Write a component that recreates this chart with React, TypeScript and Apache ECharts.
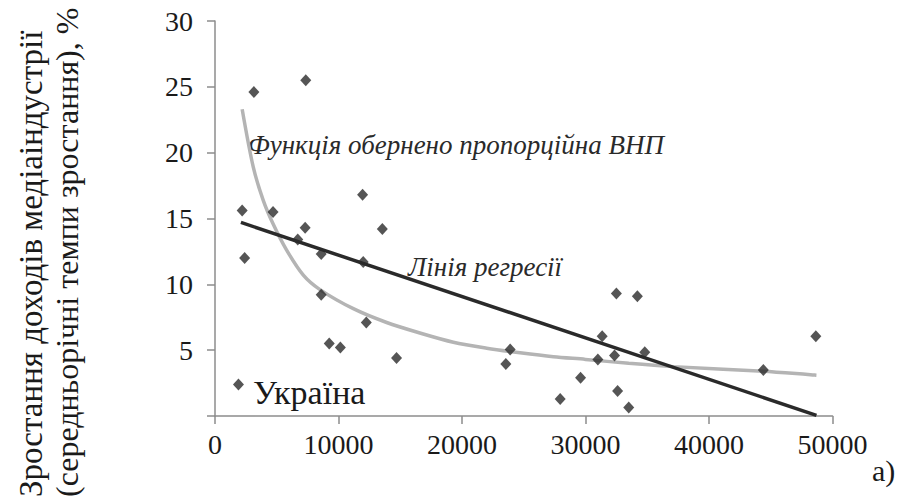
import React, { useEffect, useRef } from "react";
import * as echarts from "echarts";

// Scatter points: GDP per capita (x) vs media revenue growth, % (y)
const pointsX = [1900, 2200, 2400, 3150, 4700, 6700, 7300, 7350, 8600, 8600, 9250, 10150, 11950, 12000, 12250, 13550, 14700, 23550, 23900, 27950, 29600, 31000, 31350, 32350, 32500, 32600, 33500, 34200, 34800, 44400, 48650];
const pointsY = [2.4, 15.6, 12.0, 24.6, 15.5, 13.4, 14.3, 25.5, 12.3, 9.2, 5.5, 5.2, 16.8, 11.7, 7.1, 14.2, 4.4, 3.95, 5.05, 1.3, 2.9, 4.3, 6.05, 4.6, 9.3, 1.9, 0.65, 9.1, 4.85, 3.5, 6.05];

// Regression line endpoints
const regX = [2100, 48700];
const regY = [14.7, 0.05];

// Inverse-proportional curve, points
const curveX = [2200, 3100, 3900, 4700, 5800, 7150, 8500, 11200, 13900, 16600, 19300, 22000, 24700, 27400, 30000, 33500, 37100, 44400, 48700];
const curveY = [23.3, 18.9, 16.4, 14.6, 12.6, 10.7, 9.6, 8.15, 7.1, 6.3, 5.6, 5.15, 4.8, 4.5, 4.3, 4.0, 3.75, 3.4, 3.1];

const xTicks = { min: 0, max: 50000, interval: 10000 };
const yTicks = { min: 0, max: 30, interval: 5 };

const titleLine1 = "Зростання доходів медіаіндустрії";
const titleLine2 = "(середньорічні темпи зростання), %";
const curveLabel = "Функція обернено пропорційна ВНП";
const regLabel = "Лінія регресії";
const ukraineLabel = "Україна";
const panelLabel = "а)";

const SERIF = "'Liberation Serif', 'DejaVu Serif', serif";

export default function App() {
  const ref = useRef<HTMLDivElement>(null);
  useEffect(() => {
    if (!ref.current) return;
    const chart = echarts.init(ref.current, undefined, { renderer: "svg" });
    const axisGray = "#8c8c8c";
    const txt = (text: string, x: number, y: number, size: number, italic: boolean, rot = 0, color = "#1a1a1a") => ({
      type: "text",
      x,
      y,
      rotation: rot,
      style: {
        text,
        fontFamily: SERIF,
        fontStyle: italic ? "italic" : "normal",
        fontSize: size,
        fill: color,
        textAlign: "left",
        textVerticalAlign: "middle",
      },
    });
    chart.setOption({
      animation: false,
      backgroundColor: "#ffffff",
      textStyle: { fontFamily: SERIF },
      grid: { left: 215, right: 70.5, top: 21, bottom: 86 },
      xAxis: {
        type: "value",
        min: xTicks.min,
        max: xTicks.max,
        interval: xTicks.interval,
        splitLine: { show: false },
        axisLine: { show: true, lineStyle: { color: axisGray, width: 1.5 } },
        axisTick: { show: true, length: 8, lineStyle: { color: axisGray, width: 1.5 } },
        axisLabel: {
          color: "#1a1a1a",
          fontFamily: SERIF,
          fontSize: 28,
          margin: 14,
          formatter: (v: number) => String(v),
        },
      },
      yAxis: {
        type: "value",
        min: yTicks.min,
        max: yTicks.max,
        interval: yTicks.interval,
        splitLine: { show: false },
        axisLine: { show: true, lineStyle: { color: axisGray, width: 1.5 } },
        axisTick: { show: true, length: 8, lineStyle: { color: axisGray, width: 1.5 } },
        axisLabel: {
          color: "#1a1a1a",
          fontFamily: SERIF,
          fontSize: 28,
          margin: 22,
          formatter: (v: number) => (v === 0 ? "" : String(v)),
        },
      },
      series: [
        {
          type: "line",
          data: curveX.map((x, i) => [x, curveY[i]]),
          smooth: 0.3,
          showSymbol: false,
          symbol: "none",
          lineStyle: { color: "#b4b4b4", width: 3.5 },
          z: 2,
        },
        {
          type: "line",
          data: regX.map((x, i) => [x, regY[i]]),
          showSymbol: false,
          symbol: "none",
          lineStyle: { color: "#2a2a2a", width: 3.5 },
          z: 3,
        },
        {
          type: "scatter",
          data: pointsX.map((x, i) => [x, pointsY[i]]),
          symbol: "diamond",
          symbolSize: [11, 12],
          itemStyle: { color: "#2b2b2b" },
          z: 4,
        },
      ],
      graphic: [
        txt(titleLine1, 31, 497, 33, false, Math.PI / 2),
        txt(titleLine2, 67, 497, 32, false, Math.PI / 2),
        txt(curveLabel, 248, 145, 27, true, 0, "#2a2a2a"),
        txt(regLabel, 408, 267, 27, true, 0, "#2a2a2a"),
        txt(ukraineLabel, 253, 392, 34, false),
        txt(panelLabel, 872, 470, 30, false),
      ],
    });
    return () => chart.dispose();
  }, []);
  return (
    <div
      ref={ref}
      style={{ position: "fixed", left: 0, top: 0, width: 903, height: 502, background: "#fff" }}
    />
  );
}
